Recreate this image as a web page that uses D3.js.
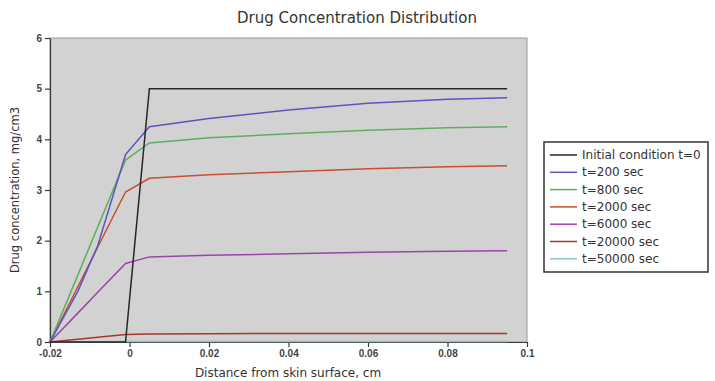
<!DOCTYPE html>
<html>
<head>
<meta charset="utf-8">
<script src="https://cdn.jsdelivr.net/npm/d3@7"></script>
<style>
  body { margin: 0; background: #fff; }
  svg { font-family: "DejaVu Sans", sans-serif; }
  .tick text { font-size: 10px; font-weight: bold; fill: #444; }
</style>
</head>
<body>
<svg width="715" height="381"></svg>
<script>
    // x positions of the solution grid (cm)
    var xs = [-0.02, -0.013, -0.008, -0.001, 0.005, 0.02, 0.04, 0.06, 0.08, 0.095];

    var seriesNames = ["Initial condition t=0", "t=200 sec", "t=800 sec", "t=2000 sec",
                       "t=6000 sec", "t=20000 sec", "t=50000 sec"];
    var seriesColors = ["#262626", "#5a55c0", "#5fae5f", "#c8502e", "#9a45aa", "#a8382c", "#8fc0d0"];

    var initial = [0, 0, 0, 0, 5, 5, 5, 5, 5, 5];
    var t200   = [0, 1.00, 1.90, 3.70, 4.25, 4.41, 4.58, 4.71, 4.79, 4.82];
    var t800   = [0, 1.32, 2.27, 3.59, 3.93, 4.03, 4.11, 4.18, 4.23, 4.25];
    var t2000  = [0, 1.09, 1.87, 2.96, 3.23, 3.30, 3.36, 3.42, 3.46, 3.48];
    var t6000  = [0, 0.57, 0.98, 1.55, 1.68, 1.71, 1.74, 1.77, 1.79, 1.80];
    var t20000 = [0, 0.055, 0.095, 0.15, 0.16, 0.165, 0.17, 0.17, 0.17, 0.17];
    var t50000 = [0, 0.004, 0.007, 0.01, 0.01, 0.01, 0.01, 0.01, 0.01, 0.01];

    var seriesValues = [initial, t200, t800, t2000, t6000, t20000, t50000];

    var xTicks = [-0.02, 0, 0.02, 0.04, 0.06, 0.08, 0.1];
    var yTicks = [0, 1, 2, 3, 4, 5, 6];

    var svg = d3.select("svg"),
        margin = {top: 38, left: 50},
        width = 477,
        height = 304,
        g = svg.append("g").attr("transform", "translate(" + margin.left + "," + margin.top + ")");

    var x = d3.scaleLinear().domain([-0.02, 0.1]).range([0, width]);
    var y = d3.scaleLinear().domain([0, 6]).range([height, 0]);

    // plot background + frame
    g.append("rect")
        .attr("width", width)
        .attr("height", height)
        .attr("fill", "#d2d2d2")
        .attr("stroke", "#9a9a9a")
        .attr("stroke-width", 1);

    g.append("g")
        .attr("class", "axis axis--x")
        .attr("transform", "translate(0," + height + ")")
        .call(d3.axisBottom(x).tickValues(xTicks).tickSize(5).tickSizeOuter(0)
            .tickFormat(function(d) { return String(+d.toFixed(2)); }));

    g.append("g")
        .attr("class", "axis axis--y")
        .call(d3.axisLeft(y).tickValues(yTicks).tickSize(5).tickSizeOuter(0)
            .tickFormat(d3.format("d")));

    g.selectAll(".axis path, .axis line").attr("stroke", "#3a3a3a").attr("stroke-width", 1.2);
    g.selectAll(".axis--y .tick text").attr("x", -8);

    var line = d3.line()
        .x(function(d, i) { return x(xs[i]); })
        .y(function(d) { return y(d); });

    // draw last series first so the initial condition sits on top like the original
    seriesValues.slice().reverse().forEach(function(vals, k) {
        var i = seriesValues.length - 1 - k;
        g.append("path")
            .datum(vals)
            .attr("fill", "none")
            .attr("stroke", seriesColors[i])
            .attr("stroke-width", 1.5)
            .attr("d", line);
    });

    // titles
    svg.append("text")
        .attr("x", 357).attr("y", 23)
        .attr("text-anchor", "middle")
        .attr("font-size", 15)
        .attr("fill", "#333")
        .text("Drug Concentration Distribution");

    svg.append("text")
        .attr("transform", "translate(19,190) rotate(-90)")
        .attr("text-anchor", "middle")
        .attr("font-size", 11.5)
        .attr("fill", "#333")
        .text("Drug concentration, mg/cm3");

    svg.append("text")
        .attr("x", 288).attr("y", 377)
        .attr("text-anchor", "middle")
        .attr("font-size", 12)
        .attr("fill", "#333")
        .text("Distance from skin surface, cm");

    // legend
    var legend = svg.append("g").attr("transform", "translate(544,142)");
    legend.append("rect")
        .attr("width", 164).attr("height", 130)
        .attr("fill", "#fff")
        .attr("stroke", "#333")
        .attr("stroke-width", 1.5);

    var rows = legend.selectAll(".row")
        .data(seriesNames)
        .enter().append("g")
        .attr("transform", function(d, i) { return "translate(0," + (13 + i * 17.3) + ")"; });

    rows.append("line")
        .attr("x1", 6).attr("x2", 33)
        .attr("stroke", function(d, i) { return seriesColors[i]; })
        .attr("stroke-width", 1.5);

    rows.append("text")
        .attr("x", 38).attr("y", 4)
        .attr("font-size", 12)
        .attr("fill", "#333")
        .text(function(d) { return d; });
</script>
</body>
</html>
